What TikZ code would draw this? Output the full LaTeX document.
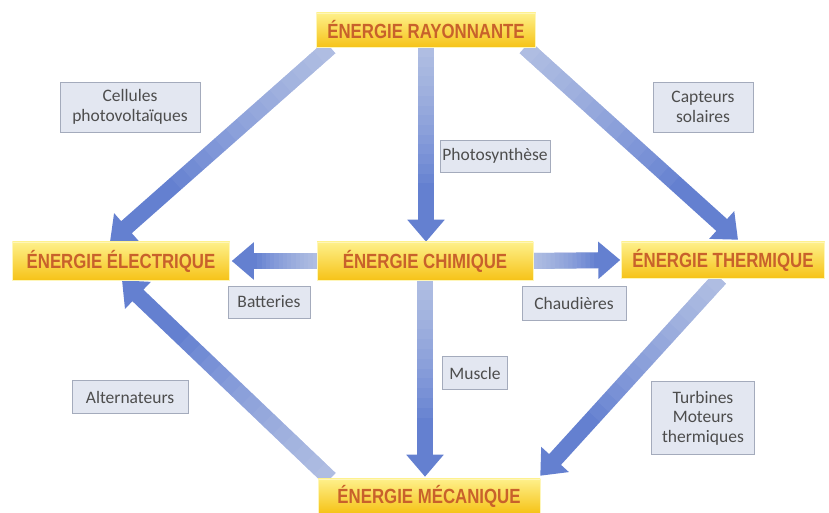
\documentclass[tikz,border=0pt]{standalone}
\usepackage{fontspec}
\usetikzlibrary{arrows.meta,calc}
\newfontfamily\condfont{Liberation Sans}[FakeStretch=0.82]
\newfontfamily\lblfont{Carlito}
\definecolor{arrowdark}{HTML}{6480D0}
\definecolor{boxtop}{HTML}{FEF08A}
\definecolor{boxbot}{HTML}{F6C318}
\definecolor{titletext}{HTML}{C8612B}
\definecolor{lblfill}{HTML}{E3E7F1}
\definecolor{lbldraw}{HTML}{A4ABBC}
\definecolor{lbltext}{HTML}{4D4D4D}
\tikzset{
  energy/.style={rectangle, top color=boxtop, bottom color=boxbot, draw=boxtop!60!white, line width=0.5pt,
    text=titletext, font=\condfont\bfseries\fontsize{20.5}{24}\selectfont, inner sep=0pt, minimum height=35pt},
  lbl/.style={rectangle, fill=lblfill, draw=lbldraw, line width=0.8pt, text=lbltext,
    font=\lblfont\fontsize{17.5}{19.5}\selectfont, align=center, inner sep=0pt},
  flow/.style={line width=16pt, color=arrowdark, -{Triangle[width=36pt,length=22pt]}},
  glow/.style={line width=16pt, white, opacity=0.05}
}
\newcommand{\flowarrow}[2]{%
  \draw[flow] (#1) -- (#2);
  \foreach \i in {1,...,14}{\draw[glow] (#1) -- ($(#1)!\i/20!(#2)$);}
}
\begin{document}
\begin{tikzpicture}[x=1pt,y=1pt]
\useasboundingbox[fill=white] (0,0) rectangle (829,513);
% energy boxes (placed first as coordinates, drawn later on top)
\path
  node[energy, minimum width=219pt, minimum height=34pt] (ray) at (426,483) {ÉNERGIE RAYONNANTE}
  node[energy, minimum width=217pt, minimum height=38pt] (ele) at (121,252) {ÉNERGIE ÉLECTRIQUE}
  node[energy, minimum width=216pt, minimum height=38pt] (chi) at (425,252) {ÉNERGIE CHIMIQUE}
  node[energy, minimum width=203pt, minimum height=36pt] (the) at (723,253) {ÉNERGIE THERMIQUE}
  node[energy, minimum width=222pt, minimum height=34pt] (mec) at (429,17) {ÉNERGIE MÉCANIQUE};
% connector end points
\coordinate (s1) at ([xshift=-96pt]ray.south);
\coordinate (e1) at ([xshift=-11pt]ele.north);
\coordinate (s2) at (ray.south);
\coordinate (e2) at (ray.south |- chi.north);
\coordinate (s3) at ([xshift=99pt]ray.south);
\coordinate (e3) at ([xshift=15pt,yshift=2pt]the.north);
\coordinate (s4) at (chi.west);
\coordinate (e4) at ([xshift=2pt]ele.east);
\coordinate (s5) at (chi.east);
\coordinate (e5) at ([xshift=-1pt]the.west);
\coordinate (s6) at (chi.south);
\coordinate (e6) at ([yshift=2pt]chi.south |- mec.north);
\coordinate (s7) at ([xshift=-3pt]the.south);
\coordinate (e7) at ([yshift=3pt]mec.north east);
\coordinate (s8) at ([xshift=-99pt]mec.north);
\coordinate (e8) at ([xshift=1pt]ele.south);
% arrows
\flowarrow{s1}{e1}
\flowarrow{s2}{e2}
\flowarrow{s3}{e3}
\flowarrow{s4}{e4}
\flowarrow{s5}{e5}
\flowarrow{s6}{e6}
\flowarrow{s7}{e7}
\flowarrow{s8}{e8}
% redraw energy boxes on top
\node[energy, minimum width=219pt, minimum height=34pt] at (ray) {ÉNERGIE RAYONNANTE};
\node[energy, minimum width=217pt, minimum height=38pt] at (ele) {ÉNERGIE ÉLECTRIQUE};
\node[energy, minimum width=216pt, minimum height=38pt] at (chi) {ÉNERGIE CHIMIQUE};
\node[energy, minimum width=203pt, minimum height=36pt] at (the) {ÉNERGIE THERMIQUE};
\node[energy, minimum width=222pt, minimum height=34pt] at (mec) {ÉNERGIE MÉCANIQUE};
% labels
\node[lbl, minimum width=140pt, minimum height=50pt] (cel) at (130,406) {Cellules\\photovoltaïques};
\node[lbl, minimum width=100pt, minimum height=50pt] (cap) at (703,406) {Capteurs\\solaires};
\node[lbl, minimum width=110pt, minimum height=32pt] (pho) at (495,357) {Photosynthèse};
\node[lbl, minimum width=82pt, minimum height=32pt] (bat) at (269,211) {Batteries};
\node[lbl, minimum width=104pt, minimum height=34pt] (cha) at (574,210) {Chaudières};
\node[lbl, minimum width=65pt, minimum height=33pt] (mus) at (475,140) {Muscle};
\node[lbl, minimum width=116pt, minimum height=33pt] (alt) at (130,116) {Alternateurs};
\node[lbl, minimum width=103pt, minimum height=73pt] (tur) at (703,95) {Turbines\\Moteurs\\thermiques};
\end{tikzpicture}
\end{document}
